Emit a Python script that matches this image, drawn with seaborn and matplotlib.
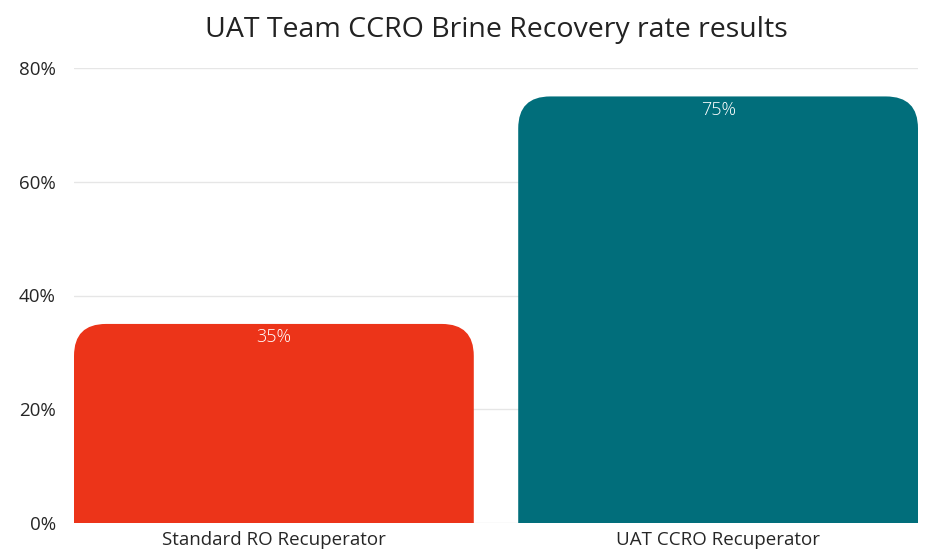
import matplotlib
matplotlib.use("Agg")
import matplotlib.pyplot as plt
import seaborn as sns
import pandas as pd
from matplotlib.patches import FancyBboxPatch
from matplotlib.ticker import FuncFormatter

categories = ["Standard RO Recuperator", "UAT CCRO Recuperator"]
recovery = [35, 75]
bar_colors = ["#EC3419", "#016E7B"]

sns.set_theme(style="white")
plt.rcParams['font.family'] = ['Open Sans', 'DejaVu Sans']

df = pd.DataFrame({"system": categories, "recovery": recovery})

fig = plt.figure(figsize=(9.45, 5.6), dpi=100)
ax = fig.add_axes([74 / 945, 37 / 560, 844 / 945, 455 / 560])

sns.barplot(data=df, x="system", y="recovery", hue="system",
            palette=bar_colors, saturation=1, width=0.9, legend=False, ax=ax)

ax.set_xlim(-0.45, 1.45)
ax.set_ylim(0, 80)

# swap plain bars for ones with rounded top corners
radius = 0.072
aspect = 78
for patch, val in zip(list(ax.patches), recovery):
    x0 = patch.get_x()
    w = patch.get_width()
    color = patch.get_facecolor()
    patch.set_visible(False)
    rounded = FancyBboxPatch((x0, -10), w, patch.get_height() + 10,
                             boxstyle=f"round,pad=0,rounding_size={radius}",
                             mutation_aspect=aspect, facecolor=color,
                             edgecolor="none", zorder=3)
    ax.add_patch(rounded)
    ax.text(x0 + w / 2, val - 2.3, f"{val}%", ha="center", va="center",
            color="white", fontsize=13, fontweight="light", zorder=4)

ax.set_yticks([0, 20, 40, 60, 80])
ax.yaxis.set_major_formatter(FuncFormatter(lambda v, p: f"{v:.0f}%"))
ax.grid(axis="y", color="#e6e6e6", linewidth=1)
ax.set_axisbelow(True)
for s in ax.spines.values():
    s.set_visible(False)
ax.tick_params(axis="both", length=0, labelsize=13.5, colors="#262626")
ax.tick_params(axis="y", pad=13)
ax.tick_params(axis="x", pad=6)
ax.set_xlabel("")
ax.set_ylabel("")

fig.text(496 / 945, 1 - 30 / 560, "UAT Team CCRO Brine Recovery rate results",
         ha="center", va="center", fontsize=20.5, color="#222222")

fig.savefig("out.png", dpi=100)
